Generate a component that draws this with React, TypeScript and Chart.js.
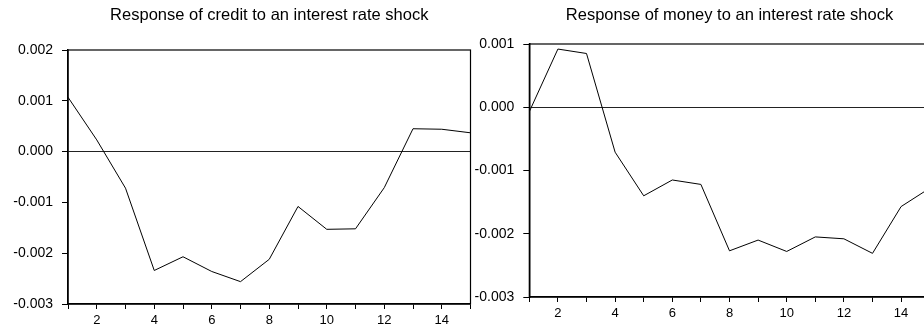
import React, { useEffect, useRef } from "react";
import { Chart, registerables } from "chart.js";

Chart.register(...registerables);

const periods = [1, 2, 3, 4, 5, 6, 7, 8, 9, 10, 11, 12, 13, 14, 15];
const creditTitle = "Response of credit to an interest rate shock";
const creditValues = [0.00107, 0.00023, -0.00072, -0.00234, -0.00207, -0.00236, -0.00256, -0.00212, -0.00108, -0.00153, -0.00152, -0.00071, 0.00045, 0.00044, 0.00037];
const moneyTitle = "Response of money to an interest rate shock";
const moneyValues = [-0.00007, 0.00092, 0.00085, -0.00071, -0.0014, -0.00115, -0.00122, -0.00227, -0.0021, -0.00228, -0.00205, -0.00208, -0.00231, -0.00157, -0.00128];
const creditYRange = [-0.003, 0.002];
const moneyYRange = [-0.003, 0.001];

const FONT = "'Liberation Sans', Arial, sans-serif";
const TITLE_SIZE = 16.5;

const framePlugin = {
  id: "frame",
  afterDraw(chart: any) {
    const { ctx, chartArea } = chart;
    ctx.save();
    ctx.strokeStyle = "#000";
    ctx.lineWidth = 1.2;
    ctx.strokeRect(chartArea.left, chartArea.top, chartArea.right - chartArea.left, chartArea.bottom - chartArea.top);
    ctx.restore();
  },
};

type PanelProps = {
  title: string;
  values: number[];
  yRange: number[];
  left: number;
  width: number;
  yAxisWidth: number;
  rightPad: number;
  titleTop: number;
  plotTop: number;
  xAxisHeight: number;
};

function Panel(p: PanelProps) {
  const ref = useRef<HTMLCanvasElement>(null);
  useEffect(() => {
    if (!ref.current) return;
    const chart = new Chart(ref.current, {
      type: "line",
      data: {
        labels: periods,
        datasets: [
          {
            data: periods.map((x, i) => ({ x, y: p.values[i] })),
            borderColor: "#000",
            borderWidth: 1,
            pointRadius: 0,
            tension: 0,
            fill: false,
          },
        ],
      },
      options: {
        animation: false,
        responsive: false,
        layout: { padding: { left: 0, right: p.rightPad, top: 0, bottom: 0 } },
        plugins: {
          legend: { display: false },
          tooltip: { enabled: false },
          title: {
            display: true,
            fullSize: false,
            text: p.title,
            color: "#000",
            font: { family: FONT, size: TITLE_SIZE, weight: "normal", lineHeight: 1.2 },
            padding: { top: p.titleTop, bottom: p.plotTop - p.titleTop - TITLE_SIZE * 1.2 },
          },
        },
        scales: {
          x: {
            type: "linear",
            min: 1,
            max: 15,
            afterFit: (s: any) => {
              s.height = p.xAxisHeight;
            },
            ticks: {
              stepSize: 1,
              autoSkip: false,
              maxRotation: 0,
              color: "#000",
              padding: 4,
              font: { family: FONT, size: 13 },
              callback: (v: any) => (Number(v) % 2 === 0 ? String(v) : ""),
            },
            grid: { drawOnChartArea: false, tickLength: 5, tickColor: "#000", tickWidth: 1 },
            border: { display: true, color: "#000", width: 1.5 },
          },
          y: {
            type: "linear",
            min: p.yRange[0],
            max: p.yRange[1],
            afterFit: (s: any) => {
              s.width = p.yAxisWidth;
            },
            ticks: {
              stepSize: 0.001,
              color: "#000",
              padding: 9,
              font: { family: FONT, size: 14 },
              callback: (v: any) => Number(v).toFixed(3),
            },
            grid: {
              drawOnChartArea: true,
              tickLength: 6,
              tickColor: "#000",
              color: (c: any) => (c.tick && Math.abs(c.tick.value) < 1e-9 ? "#222" : "rgba(0,0,0,0)"),
              lineWidth: 1,
            },
            border: { display: true, color: "#000", width: 1.5 },
          },
        },
      },
      plugins: [framePlugin],
    } as any);
    return () => chart.destroy();
  }, []);
  return (
    <canvas
      ref={ref}
      width={p.width}
      height={330}
      style={{ position: "absolute", left: p.left, top: 0, width: p.width, height: 330 }}
    />
  );
}

export default function App() {
  return (
    <div style={{ position: "fixed", left: 0, top: 0, width: 924, height: 330, overflow: "hidden", background: "#fff" }}>
      <Panel
        title={creditTitle}
        values={creditValues}
        yRange={creditYRange}
        left={0}
        width={540}
        yAxisWidth={68}
        rightPad={69.5}
        titleTop={6}
        plotTop={50}
        xAxisHeight={26}
      />
      <Panel
        title={moneyTitle}
        values={moneyValues}
        yRange={moneyYRange}
        left={460}
        width={508}
        yAxisWidth={69.3}
        rightPad={38.3}
        titleTop={6}
        plotTop={44}
        xAxisHeight={33}
      />
    </div>
  );
}
